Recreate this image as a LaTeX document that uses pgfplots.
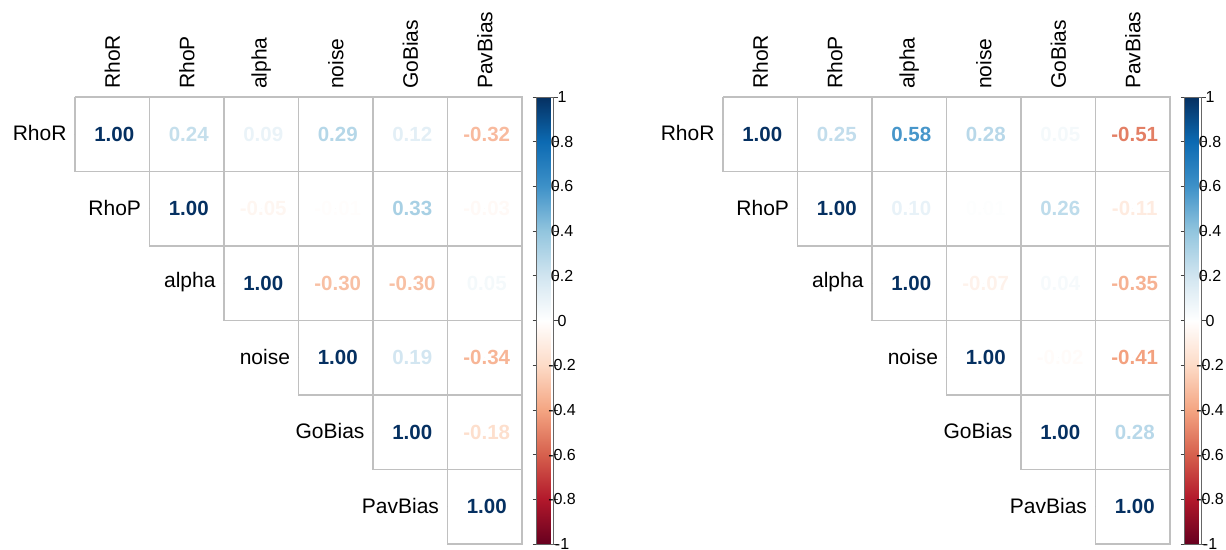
\documentclass[border=0pt]{standalone}
\usepackage{pgfplots}
\pgfplotsset{compat=1.18}
\usepackage{pgfplotstable}
\usepackage{fontspec}
\setmainfont{Liberation Sans}
\setsansfont{Liberation Sans}

\pgfplotstableread{
x y v
0.5 0.5 1.00
1.5 0.5 0.24
2.5 0.5 0.09
3.5 0.5 0.29
4.5 0.5 0.12
5.5 0.5 -0.32
1.5 1.5 1.00
2.5 1.5 -0.05
3.5 1.5 -0.01
4.5 1.5 0.33
5.5 1.5 -0.03
2.5 2.5 1.00
3.5 2.5 -0.30
4.5 2.5 -0.30
5.5 2.5 0.05
3.5 3.5 1.00
4.5 3.5 0.19
5.5 3.5 -0.34
4.5 4.5 1.00
5.5 4.5 -0.18
5.5 5.5 1.00
}\leftdata

\pgfplotstableread{
x y v
0.5 0.5 1.00
1.5 0.5 0.25
2.5 0.5 0.58
3.5 0.5 0.28
4.5 0.5 0.05
5.5 0.5 -0.51
1.5 1.5 1.00
2.5 1.5 0.10
3.5 1.5 0.01
4.5 1.5 0.26
5.5 1.5 -0.11
2.5 2.5 1.00
3.5 2.5 -0.07
4.5 2.5 0.04
5.5 2.5 -0.35
3.5 3.5 1.00
4.5 3.5 -0.02
5.5 3.5 -0.41
4.5 4.5 1.00
5.5 4.5 0.28
5.5 5.5 1.00
}\rightdata

\pgfplotstableread{
x y lab
0 0.5 RhoR
1 1.5 RhoP
2 2.5 alpha
3 3.5 noise
4 4.5 GoBias
5 5.5 PavBias
}\rowlabels

\definecolor{gridgray}{RGB}{192,192,192}

\pgfplotsset{
  corrstyle/.style={
    scale only axis, width=447pt, height=447pt,
    anchor=south west,
    xmin=0, xmax=6, ymin=0, ymax=6, y dir=reverse,
    clip=false,
    axis line style={draw=none},
    xtick={0.5,1.5,2.5,3.5,4.5,5.5},
    xticklabels={RhoR,RhoP,alpha,noise,GoBias,PavBias},
    xticklabel pos=upper,
    xticklabel shift=6pt,
    x tick label style={rotate=90, anchor=west, font=\fontsize{21}{25}\selectfont, inner sep=2pt},
    ytick=\empty, major tick length=0pt,
    colormap={RdBu}{rgb255=(103,0,31) rgb255=(178,24,43) rgb255=(214,96,77) rgb255=(244,165,130) rgb255=(253,219,199) rgb255=(255,255,255) rgb255=(209,229,240) rgb255=(146,197,222) rgb255=(62,145,200) rgb255=(12,106,178) rgb255=(5,48,97)},
    point meta min=-1, point meta max=1,
    colorbar,
    colorbar style={
      at={(parent axis.north east)}, anchor=north west, xshift=6pt,
      scale only axis, width=17pt, height=447pt,
      ytick={-1,-0.8,-0.6,-0.4,-0.2,0,0.2,0.4,0.6,0.8,1},
      yticklabel pos=right,
      tick align=outside, major tick length=4pt,
      ytick style={black!75, line width=0.8pt},
      axis line style={black!60, line width=0.8pt},
      yticklabel style={font=\fontsize{16}{19}\selectfont, anchor=center, xshift=4.5pt},
      /pgf/number format/assume math mode=true,
    },
  },
  gridA/.style={gridgray, line width=1.4pt, line join=miter, mark=none},
  numstyle/.style={only marks, mark=*, mark size=0pt,
    mark options={draw=none, fill=none},
    point meta=explicit,
    nodes near coords={\pgfplotscolormapdefinemappedcolor{\pgfplotspointmetatransformed}\color{mapped color}\pgfmathprintnumber[fixed,fixed zerofill,precision=2,assume math mode=true]{\pgfplotspointmeta}},
    nodes near coords style={anchor=center, font=\fontsize{20.5}{24}\selectfont\bfseries, xshift=2pt}},
  rowlabstyle/.style={only marks, mark=*, mark size=0pt, mark options={draw=none, fill=none},
    point meta=explicit symbolic,
    nodes near coords,
    nodes near coords style={anchor=east, font=\fontsize{21}{25}\selectfont, color=black, xshift=-5pt, yshift=1pt}},
}

\begin{document}
\begin{tikzpicture}[x=1pt,y=1pt]
\path[use as bounding box] (0,0) rectangle (1226,549);

\begin{axis}[corrstyle, at={(75pt,5pt)}]
\addplot[gridA] coordinates {(0,0) (6,0) (6,6) (5,6) (5,5) (4,5) (4,4) (3,4) (3,3) (2,3) (2,2) (1,2) (1,1) (0,1) (0,0)};
\addplot[gridA] coordinates {(1,0) (1,1) (6,1) (6,2) (2,2) (2,0) (3,0) (3,3) (6,3) (6,4) (4,4) (4,0) (5,0) (5,5) (6,5)};
\addplot[numstyle] table[x=x, y=y, meta=v] {\leftdata};
\addplot[rowlabstyle] table[x=x, y=y, meta=lab] {\rowlabels};
\end{axis}

\begin{axis}[corrstyle, at={(723pt,5pt)}]
\addplot[gridA] coordinates {(0,0) (6,0) (6,6) (5,6) (5,5) (4,5) (4,4) (3,4) (3,3) (2,3) (2,2) (1,2) (1,1) (0,1) (0,0)};
\addplot[gridA] coordinates {(1,0) (1,1) (6,1) (6,2) (2,2) (2,0) (3,0) (3,3) (6,3) (6,4) (4,4) (4,0) (5,0) (5,5) (6,5)};
\addplot[numstyle] table[x=x, y=y, meta=v] {\rightdata};
\addplot[rowlabstyle] table[x=x, y=y, meta=lab] {\rowlabels};
\end{axis}
\end{tikzpicture}
\end{document}
